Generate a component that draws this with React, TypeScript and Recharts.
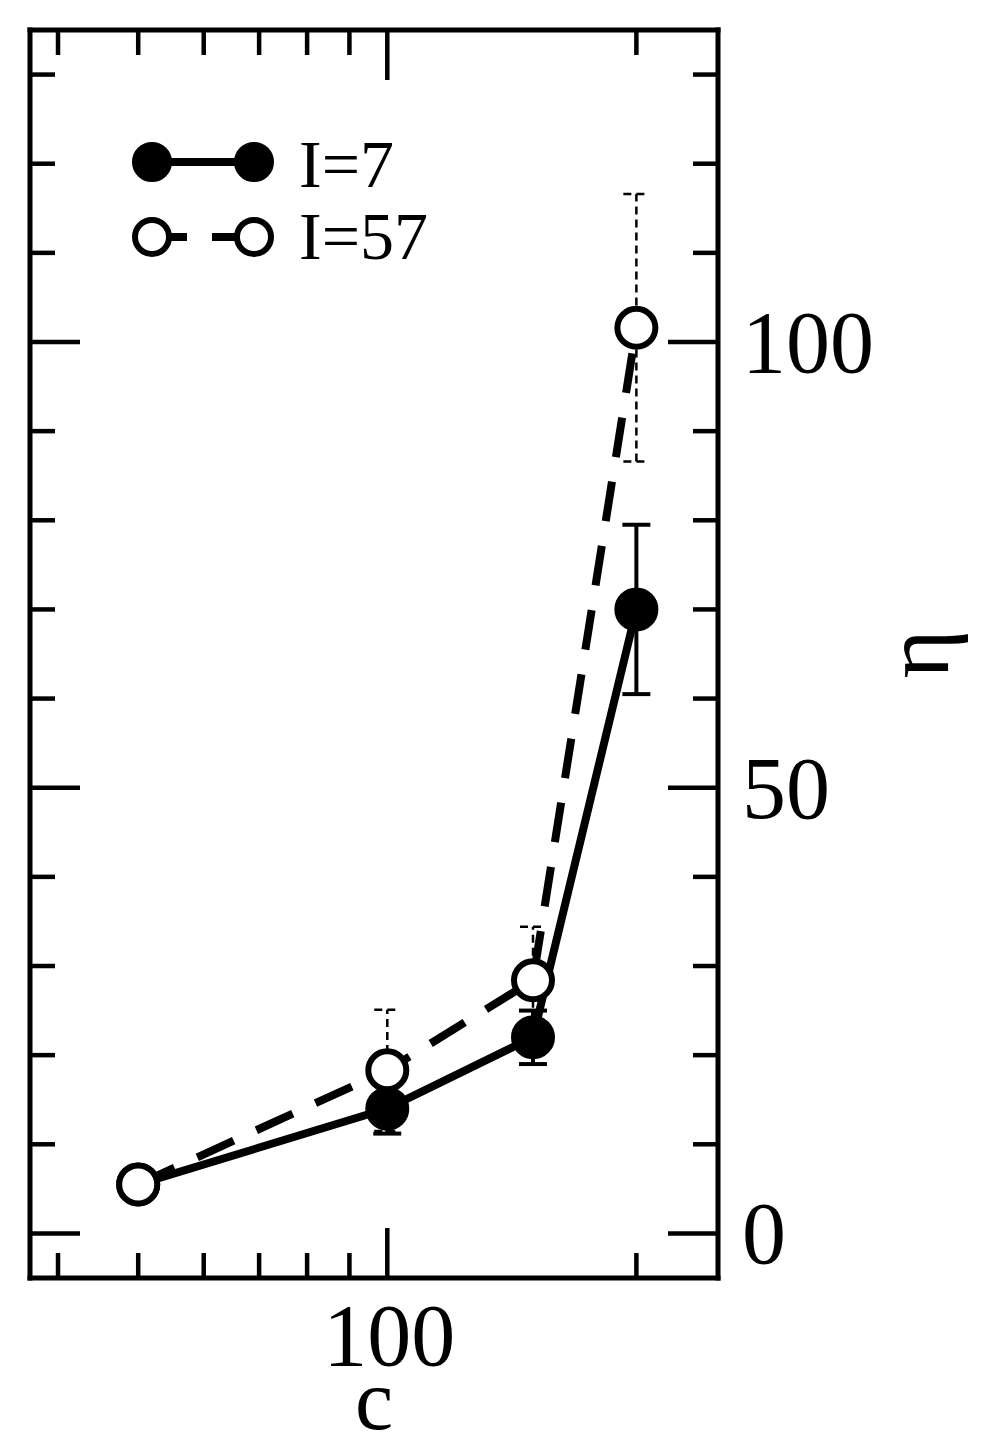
import React from 'react';
import { ComposedChart, Line, XAxis, YAxis, ErrorBar, Legend, Label } from 'recharts';

// concentration c (log axis) and viscosity eta
const cValues = [50, 100, 150, 200];
const eta7 = [5.5, 14.0, 22.0, 70.0];
const err7 = [0, 2.8, 3.0, 9.5];
const eta57 = [5.5, 18.3, 28.4, 101.6];
const err57 = [0, 6.8, 6.0, 15.0];

const xTicks = [40, 50, 60, 70, 80, 90, 100, 200];
const xLabeled = [100];
const yTicks = [0, 10, 20, 30, 40, 50, 60, 70, 80, 90, 100, 110, 120, 130];
const yLabeled = [0, 50, 100];

const series7 = cValues.map((c, i) => ({ c, eta: eta7[i], err: err7[i] }));
const series57 = cValues.map((c, i) => ({ c, eta: eta57[i], err: err57[i] }));

const FONT = "'Liberation Serif', 'Times New Roman', serif";
const TICK_W = 4.5;
const PLOT_TOP = 30; // top margin height, mirror ticks drawn from here
const frame = { stroke: '#000', strokeWidth: 5, strokeLinecap: 'square' as const };

const BottomTick = (props: any) => {
  const { x, y, payload } = props;
  const major = xLabeled.includes(payload.value);
  const len = major ? 50 : 25;
  return (
    <g>
      <line x1={x} y1={y} x2={x} y2={y - len} stroke="#000" strokeWidth={TICK_W} />
      <line x1={x} y1={PLOT_TOP} x2={x} y2={PLOT_TOP + len} stroke="#000" strokeWidth={TICK_W} />
      {major && (
        <text x={x + 2} y={y + 87} textAnchor="middle" fontSize={88} fontFamily={FONT} fill="#000">
          {payload.value}
        </text>
      )}
    </g>
  );
};

const RightTick = (props: any) => {
  const { x, y, payload } = props;
  const major = yLabeled.includes(payload.value);
  return (
    <g>
      <line x1={x} y1={y} x2={x - (major ? 50 : 25)} y2={y} stroke="#000" strokeWidth={TICK_W} />
      {major && (
        <text x={x + 24} y={y + 30} textAnchor="start" fontSize={88} fontFamily={FONT} fill="#000">
          {payload.value}
        </text>
      )}
    </g>
  );
};

const LeftTick = (props: any) => {
  const { x, y, payload } = props;
  const major = yLabeled.includes(payload.value);
  return <line x1={x} y1={y} x2={x + (major ? 50 : 25)} y2={y} stroke="#000" strokeWidth={TICK_W} />;
};

const renderLegend = () => (
  <svg width={460} height={300} style={{ display: 'block' }}>
    <line x1={152} y1={162} x2={254} y2={162} stroke="#000" strokeWidth={8} />
    <circle cx={152} cy={162} r={17.5} fill="#000" stroke="#000" strokeWidth={5} />
    <circle cx={254} cy={162} r={17.5} fill="#000" stroke="#000" strokeWidth={5} />
    <text x={299} y={187} fontSize={68} fontFamily={FONT} fill="#000">I=7</text>

    <line x1={152} y1={237} x2={187} y2={237} stroke="#000" strokeWidth={8} />
    <line x1={212} y1={237} x2={254} y2={237} stroke="#000" strokeWidth={8} />
    <circle cx={152} cy={237} r={17} fill="#fff" stroke="#000" strokeWidth={6} />
    <circle cx={254} cy={237} r={17} fill="#fff" stroke="#000" strokeWidth={6} />
    <text x={299} y={259} fontSize={68} fontFamily={FONT} fill="#000">I=57</text>
  </svg>
);

const EtaLabel = (props: any) => {
  const vb = props.viewBox;
  const cx = vb.x + 230;
  const cy = vb.y + vb.height / 2;
  return (
    <text x={cx} y={cy} transform={`rotate(-90, ${cx}, ${cy})`} textAnchor="middle" fontSize={94} fontFamily={FONT} fill="#000">
      η
    </text>
  );
};

export default function App() {
  return (
    <div style={{ position: 'absolute', left: 0, top: 0, width: 983, height: 1454, background: '#fff', fontFamily: FONT }}>
      <ComposedChart width={983} height={1454} margin={{ top: 0, right: 0, bottom: 0, left: 0 }}>
        <XAxis
          xAxisId="b"
          dataKey="c"
          type="number"
          scale="log"
          domain={[37, 251]}
          allowDataOverflow
          ticks={xTicks}
          interval={0}
          height={176}
          tickSize={0}
          tickMargin={0}
          tickLine={false}
          axisLine={frame}
          tick={<BottomTick />}
        >
          <Label value="c" position="insideBottom" offset={25} fontSize={86} fontFamily={FONT} fill="#000" />
        </XAxis>
        <XAxis
          xAxisId="t"
          orientation="top"
          type="number"
          scale="log"
          domain={[37, 251]}
          allowDataOverflow
          height={30}
          tick={false}
          tickLine={false}
          axisLine={frame}
        />
        <YAxis
          yAxisId="r"
          orientation="right"
          type="number"
          domain={[-5, 135]}
          allowDataOverflow
          ticks={yTicks}
          interval={0}
          width={265}
          tickSize={0}
          tickMargin={0}
          tickLine={false}
          axisLine={frame}
          tick={<RightTick />}
        >
          <Label content={<EtaLabel />} />
        </YAxis>
        <YAxis
          yAxisId="l"
          orientation="left"
          type="number"
          domain={[-5, 135]}
          allowDataOverflow
          ticks={yTicks}
          interval={0}
          width={30}
          tickSize={0}
          tickMargin={0}
          tickLine={false}
          axisLine={frame}
          tick={<LeftTick />}
        />
        <Legend
          verticalAlign="middle"
          align="center"
          layout="horizontal"
          content={renderLegend}
          wrapperStyle={{ position: 'absolute', left: 0, top: 0, width: 460, height: 300 }}
        />
        <Line
          xAxisId="b"
          yAxisId="r"
          data={series7}
          dataKey="eta"
          name="I=7"
          type="linear"
          stroke="#000"
          strokeWidth={8}
          dot={{ r: 19, fill: '#000', stroke: '#000', strokeWidth: 6 }}
          activeDot={false}
          isAnimationActive={false}
        >
          <ErrorBar dataKey="err" direction="y" width={14} stroke="#000" strokeWidth={4} isAnimationActive={false} />
        </Line>
        <Line
          xAxisId="b"
          yAxisId="r"
          data={series57}
          dataKey="eta"
          name="I=57"
          type="linear"
          stroke="#000"
          strokeWidth={8}
          strokeDasharray="40 25"
          dot={{ r: 19, fill: '#fff', stroke: '#000', strokeWidth: 6, strokeDasharray: '' }}
          activeDot={false}
          isAnimationActive={false}
        >
          <ErrorBar dataKey="err" direction="y" width={13} stroke="#000" strokeWidth={2.5} strokeDasharray="8 5" isAnimationActive={false} />
        </Line>
      </ComposedChart>
    </div>
  );
}
